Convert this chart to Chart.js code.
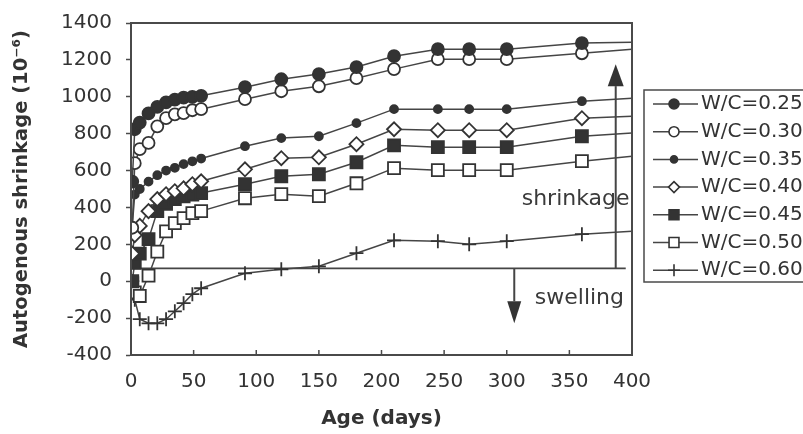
<!DOCTYPE html>
<html>
<head>
<meta charset="utf-8">
<title>Autogenous shrinkage vs age</title>
<script src="https://cdn.jsdelivr.net/npm/chart.js@4.4.1/dist/chart.umd.min.js"></script>
<style>
    html, body { margin: 0; padding: 0; background: #ffffff; }
    #wrap { width: 803px; height: 434px; }
</style>
</head>
<body>
<div id="wrap"><canvas id="shrinkageChart" width="803" height="434"></canvas></div>
<script>
// Age of each reading (days); the last one (400) is only the end of the trend line
const ageDays = [1, 3, 7, 14, 21, 28, 35, 42, 49, 56, 91, 120, 150, 180, 210, 245, 270, 300, 360, 400];

// Autogenous shrinkage (x10^-6) for each water/cement ratio
const wc025 = [540, 824, 860, 910, 945, 970, 985, 995, 1000, 1005, 1052, 1095, 1123, 1161, 1220, 1258, 1258, 1258, 1291, 1296];
const wc030 = [290, 640, 716, 750, 840, 884, 905, 911, 927, 933, 987, 1030, 1057, 1101, 1150, 1204, 1204, 1204, 1236, 1258];
const wc035 = [300, 470, 500, 540, 575, 600, 615, 635, 650, 665, 732, 776, 786, 857, 933, 933, 933, 933, 976, 992];
const wc040 = [150, 250, 300, 380, 445, 472, 488, 504, 526, 542, 607, 667, 672, 743, 824, 819, 819, 819, 884, 895];
const wc045 = [0, 100, 150, 228, 380, 420, 445, 460, 470, 478, 526, 569, 580, 645, 737, 727, 727, 727, 786, 803];
const wc050 = [-10, -60, -80, 30, 160, 270, 315, 342, 369, 380, 450, 472, 461, 531, 613, 602, 602, 602, 651, 678];
const wc060 = [0, -100, -206, -228, -228, -206, -163, -119, -70, -38, 43, 65, 81, 152, 222, 217, 200, 217, 255, 271];

const seriesLabels = ['W/C=0.25', 'W/C=0.30', 'W/C=0.35', 'W/C=0.40', 'W/C=0.45', 'W/C=0.50', 'W/C=0.60'];
const seriesValues = [wc025, wc030, wc035, wc040, wc045, wc050, wc060];

// Axis ticks
const xTickLabels = [0, 50, 100, 150, 200, 250, 300, 350, 400];
const yTickLabels = [-400, -200, 0, 200, 400, 600, 800, 1000, 1200, 1400];

// Annotation positions (data units)
const boundaryLevel = 70;          // horizontal line splitting shrinkage / swelling
const shrinkArrowAge = 387;
const shrinkArrowTop = 1177;
const swellArrowAge = 306;
const swellArrowBottom = -228;

const ink = '#333333';
const lineInk = '#454545';

// Marker look for each series (plot radius, legend radius)
const markers = [
    { style: 'circle',  fill: ink,       r: 6,   lr: 5 },
    { style: 'circle',  fill: '#ffffff', r: 6,   lr: 5 },
    { style: 'circle',  fill: ink,       r: 4,   lr: 3.5 },
    { style: 'rectRot', fill: '#ffffff', r: 7,   lr: 5.5 },
    { style: 'rect',    fill: ink,       r: 8.5, lr: 7 },
    { style: 'rect',    fill: '#ffffff', r: 8.5, lr: 7 },
    { style: 'cross',   fill: ink,       r: 7,   lr: 6 }
];

Chart.defaults.font.family = '"DejaVu Sans", sans-serif';
Chart.defaults.color = ink;

function buildDatasets() {
    return seriesValues.map(function(values, i) {
        const m = markers[i];
        return {
            label: seriesLabels[i],
            data: ageDays.map((d, k) => ({ x: d, y: values[k] })),
            borderColor: lineInk,
            borderWidth: 1.5,
            tension: 0,
            pointStyle: m.style,
            pointBackgroundColor: m.fill,
            pointBorderColor: ink,
            pointBorderWidth: 1.8,
            // no marker on the trend end point
            pointRadius: ctx => (ctx.raw && ctx.raw.x === 400 ? 0 : m.r),
            pointHoverRadius: ctx => (ctx.raw && ctx.raw.x === 400 ? 0 : m.r)
        };
    });
}

function drawArrow(ctx, x, yFrom, yTo, headLen, headHalf) {
    const dir = yTo < yFrom ? -1 : 1;
    ctx.beginPath();
    ctx.moveTo(x, yFrom);
    ctx.lineTo(x, yTo - dir * headLen);
    ctx.stroke();
    ctx.beginPath();
    ctx.moveTo(x, yTo);
    ctx.lineTo(x - headHalf, yTo - dir * headLen);
    ctx.lineTo(x + headHalf, yTo - dir * headLen);
    ctx.closePath();
    ctx.fill();
}

// Reference line, arrows and the two words
const annotationPlugin = {
    id: 'annotations',
    beforeDatasetsDraw(chart) {
        const ctx = chart.ctx;
        const xs = chart.scales.x;
        const ys = chart.scales.y;
        const yBase = ys.getPixelForValue(boundaryLevel);
        ctx.save();
        ctx.strokeStyle = lineInk;
        ctx.fillStyle = ink;
        ctx.lineWidth = 1.8;
        ctx.beginPath();
        ctx.moveTo(chart.chartArea.left, yBase);
        ctx.lineTo(xs.getPixelForValue(395), yBase);
        ctx.stroke();

        ctx.lineWidth = 2;
        drawArrow(ctx, xs.getPixelForValue(shrinkArrowAge), yBase, ys.getPixelForValue(shrinkArrowTop), 22, 8);
        drawArrow(ctx, xs.getPixelForValue(swellArrowAge), yBase, ys.getPixelForValue(swellArrowBottom), 22, 7);

        ctx.font = '22px "DejaVu Sans", sans-serif';
        ctx.textAlign = 'center';
        ctx.textBaseline = 'middle';
        ctx.fillStyle = '#3a3a3a';
        ctx.fillText('shrinkage', xs.getPixelForValue(355), ys.getPixelForValue(445));
        ctx.fillText('swelling', xs.getPixelForValue(358), ys.getPixelForValue(-92));
        ctx.restore();
    },
    afterDraw(chart) {
        const ctx = chart.ctx;
        const area = chart.chartArea;
        const xs = chart.scales.x;
        ctx.save();
        // plot frame
        ctx.strokeStyle = '#4a4a4a';
        ctx.lineWidth = 2;
        ctx.strokeRect(area.left, area.top, area.right - area.left, area.bottom - area.top);
        // x ticks point inwards
        ctx.lineWidth = 1.5;
        xs.ticks.forEach(t => {
            const px = xs.getPixelForValue(t.value);
            ctx.beginPath();
            ctx.moveTo(px, area.bottom);
            ctx.lineTo(px, area.bottom - 5);
            ctx.stroke();
        });
        ctx.restore();
        drawLegend(chart);
    }
};

function drawLegend(chart) {
    const ctx = chart.ctx;
    const left = 644, top = 90, height = 192, rowH = 27.7;
    ctx.save();
    ctx.fillStyle = '#ffffff';
    ctx.fillRect(left, top, 170, height);
    ctx.strokeStyle = '#4a4a4a';
    ctx.lineWidth = 1.5;
    ctx.strokeRect(left, top, 170, height);
    chart.data.datasets.forEach(function(ds, i) {
        const m = markers[i];
        const y = top + 14 + i * rowH;
        ctx.strokeStyle = lineInk;
        ctx.lineWidth = 1.5;
        ctx.beginPath();
        ctx.moveTo(left + 9, y);
        ctx.lineTo(left + 54, y);
        ctx.stroke();
        ctx.fillStyle = m.fill;
        ctx.strokeStyle = ink;
        ctx.lineWidth = 1.6;
        Chart.helpers.drawPoint(ctx, { pointStyle: m.style, radius: m.lr, borderWidth: 1.6, rotation: 0 }, left + 30, y);
        ctx.fillStyle = ink;
        ctx.font = '20px "DejaVu Sans", sans-serif';
        ctx.textAlign = 'left';
        ctx.textBaseline = 'middle';
        ctx.fillText(ds.label, 701, y);
    });
    ctx.restore();
}

function initializeShrinkageChart() {
    const canvas = document.getElementById('shrinkageChart');
    const ctx = canvas.getContext('2d');
    new Chart(ctx, {
        type: 'line',
        data: { datasets: buildDatasets() },
        options: {
            responsive: false,
            animation: false,
            layout: { padding: { top: 23, right: 171, bottom: 0, left: 0 } },
            plugins: {
                legend: { display: false },
                tooltip: { enabled: false }
            },
            scales: {
                x: {
                    type: 'linear',
                    min: xTickLabels[0],
                    max: xTickLabels[xTickLabels.length - 1],
                    ticks: {
                        stepSize: 50,
                        padding: 15,
                        color: ink,
                        font: { size: 20 },
                        maxRotation: 0,
                        callback: v => String(v)
                    },
                    grid: { display: true, drawOnChartArea: false, drawTicks: false },
                    border: { display: true, color: '#4a4a4a', width: 2 },
                    title: {
                        display: true,
                        text: 'Age (days)',
                        color: ink,
                        font: { size: 20, weight: 'bold' },
                        padding: { top: 0, bottom: 3 }
                    },
                    afterFit: scale => { scale.height = 79; }
                },
                y: {
                    min: yTickLabels[0],
                    max: yTickLabels[yTickLabels.length - 1],
                    ticks: {
                        stepSize: 200,
                        padding: 14,
                        color: ink,
                        // small line height so the top label does not push the plot down
                        font: { size: 20, lineHeight: 0.9 },
                        callback: v => String(v)
                    },
                    grid: { display: true, drawOnChartArea: false, drawTicks: true, tickLength: 5, color: '#4a4a4a', tickWidth: 1.5 },
                    border: { display: true, color: '#4a4a4a', width: 2 },
                    title: {
                        display: true,
                        text: 'Autogenous shrinkage (10\u207B\u2076)',
                        color: ink,
                        font: { size: 19.5, weight: 'bold' },
                        padding: { top: 10, bottom: 0 }
                    },
                    afterFit: scale => { scale.width = 131; }
                }
            }
        },
        plugins: [annotationPlugin]
    });
}

document.addEventListener('DOMContentLoaded', initializeShrinkageChart);
</script>
</body>
</html>
